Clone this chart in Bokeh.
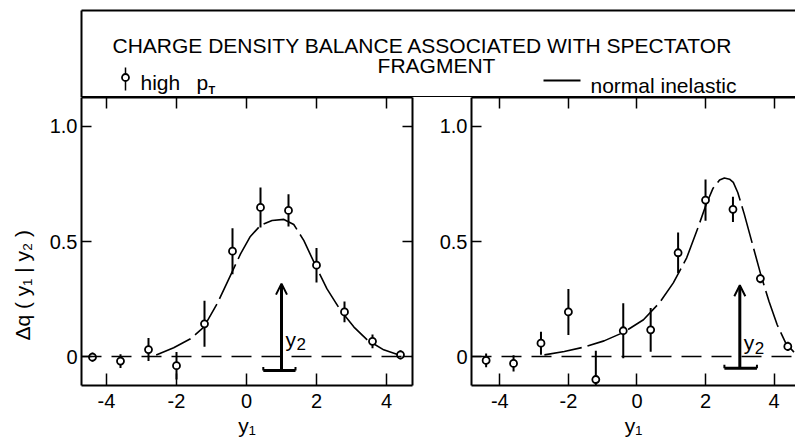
from bokeh.plotting import figure
from bokeh.layouts import column, row
from bokeh.models import (Range1d, FixedTicker, CustomJSTickFormatter, LinearAxis,
                          Span, Arrow, OpenHead, ColumnDataSource)
from bokeh.embed import file_html
from bokeh.resources import INLINE
from bokeh.core.properties import value

FONT = "Liberation Sans"

# ---------------- data ----------------
x_ticks = [-4, -2, 0, 2, 4]
y_ticks = [0, 0.5, 1.0]

# left panel
y1_left = [-4.4, -3.6, -2.8, -2.0, -1.2, -0.4, 0.4, 1.2, 2.0, 2.8, 3.6, 4.4]
dq_left = [-0.003, -0.02, 0.03, -0.04, 0.142, 0.458, 0.648, 0.635, 0.397, 0.194, 0.066, 0.007]
err_left = [0.02, 0.03, 0.05, 0.06, 0.10, 0.10, 0.087, 0.07, 0.075, 0.045, 0.03, 0.02]
curve_left_x = [-2.58, -2.08, -1.6, -1.22, -0.84, -0.46, -0.17, 0.11, 0.4, 0.73, 1.07,
                1.35, 1.64, 1.97, 2.3, 2.69, 3.07, 3.45, 3.92, 4.4]
curve_left_y = [0.007, 0.038, 0.077, 0.128, 0.229, 0.352, 0.446, 0.522, 0.570, 0.591, 0.596,
                0.574, 0.504, 0.396, 0.294, 0.200, 0.128, 0.072, 0.029, 0.004]

# right panel
y1_right = [-4.4, -3.6, -2.8, -2.0, -1.2, -0.4, 0.4, 1.2, 2.0, 2.8, 3.6, 4.4]
dq_right = [-0.017, -0.03, 0.058, 0.194, -0.10, 0.112, 0.116, 0.451, 0.68, 0.64, 0.339, 0.044]
err_right = [0.03, 0.035, 0.05, 0.10, 0.125, 0.12, 0.095, 0.088, 0.09, 0.055, 0.02, 0.02]
curve_right_x = [-2.70, -2.12, -1.54, -0.96, -0.39, 0.19, 0.67, 1.06, 1.45, 1.78, 2.02,
                 2.22, 2.41, 2.55, 2.70, 2.81, 2.94, 3.13, 3.37, 3.61, 3.85, 4.09, 4.34, 4.58]
curve_right_y = [0.007, 0.022, 0.041, 0.068, 0.105, 0.160, 0.236, 0.320, 0.429, 0.560, 0.662,
                 0.732, 0.767, 0.776, 0.771, 0.757, 0.713, 0.619, 0.488, 0.357, 0.240, 0.138,
                 0.058, 0.019]

# spectator-fragment rapidity markers (y2)
arrow_x = [1.0, 3.0]
arrow_base = [-0.061, -0.051]
arrow_tip = [0.317, 0.31]
bar_left = [0.48, 2.55]
bar_right = [1.40, 3.50]
y2_label_y = [0.075, 0.06]

title_lines = ["CHARGE  DENSITY BALANCE ASSOCIATED WITH  SPECTATOR", "FRAGMENT"]
legend_texts = ["high", "p", "T", "normal  inelastic"]
y_axis_title = "\u0394q ( y\u2081 | y\u2082 )"
x_axis_title = "y\u2081"


def style_axis(ax, ticks, formatter_code, label_size, standoff, tick_in):
    ax.ticker = FixedTicker(ticks=ticks)
    ax.formatter = CustomJSTickFormatter(code=formatter_code)
    ax.major_tick_in = tick_in
    ax.major_tick_out = 0
    ax.minor_tick_line_color = None
    ax.major_tick_line_width = 1.5
    ax.major_tick_line_color = "black"
    ax.axis_line_width = 2
    ax.axis_line_color = "black"
    ax.major_label_text_font = FONT
    ax.major_label_text_font_size = label_size
    ax.major_label_text_color = "black"
    ax.major_label_standoff = standoff
    ax.axis_label_text_font = FONT
    ax.axis_label_text_font_style = "normal"
    ax.axis_label_text_color = "black"


def make_panel(width, mb_left, mb_right, x_start, x_end, xs, ys, errs, cx, cy, idx, ylabel, right_axis):
    p = figure(width=width, height=347, x_range=Range1d(x_start, x_end),
               y_range=Range1d(-0.126, 1.126), output_backend="svg", toolbar_location=None,
               title=None, min_border_left=mb_left, min_border_right=mb_right,
               min_border_top=0, min_border_bottom=59, x_axis_type=None, y_axis_type=None)
    p.outline_line_color = None
    p.background_fill_color = "white"
    p.border_fill_color = "white"

    xfmt = "return String(tick);"
    yfmt = "return tick == 0 ? '0' : tick.toFixed(1);"
    hide = "return '';"

    bottom = LinearAxis()
    style_axis(bottom, x_ticks, xfmt, "20px", 8, 12)
    bottom.axis_label = x_axis_title
    bottom.axis_label_text_font_size = "21px"
    bottom.axis_label_standoff = 3
    p.add_layout(bottom, "below")

    left = LinearAxis()
    style_axis(left, y_ticks, yfmt, "20px", 4, 10)
    if ylabel:
        # trailing no-break spaces shift the rotated title toward the bottom, as in the original
        left.axis_label = ylabel + "\u00a0" * 15
        left.axis_label_text_font_size = "21px"
        left.axis_label_standoff = 13
    p.add_layout(left, "left")

    top = LinearAxis()
    style_axis(top, x_ticks, hide, "0px", 0, 11)
    p.add_layout(top, "above")

    if right_axis:
        rt = LinearAxis()
        style_axis(rt, y_ticks, hide, "0px", 0, 10)
        p.add_layout(rt, "right")

    p.add_layout(Span(location=0, dimension="width", line_dash="20 10",
                      line_width=1.5, line_color="black"))

    p.line(cx, cy, line_dash="38 6", line_width=1.6, line_color="black")

    src = ColumnDataSource(dict(x=xs, y=ys,
                                lo=[v - e for v, e in zip(ys, errs)],
                                hi=[v + e for v, e in zip(ys, errs)]))
    p.segment(x0="x", y0="lo", x1="x", y1="hi", source=src, line_width=2, line_color="black")
    p.scatter("x", "y", source=src, marker="circle", size=7, fill_color="white",
              line_color="black", line_width=1.8)

    ax_ = arrow_x[idx]
    base = arrow_base[idx]
    p.add_layout(Arrow(end=OpenHead(size=11, line_width=2, line_color="black"),
                       x_start=ax_, y_start=base, x_end=ax_, y_end=arrow_tip[idx],
                       line_width=3, line_color="black"))
    p.segment(x0=[bar_left[idx]], y0=[base], x1=[bar_right[idx]], y1=[base],
              line_width=3, line_color="black")
    p.segment(x0=[bar_left[idx], bar_right[idx]], y0=[base, base],
              x1=[bar_left[idx], bar_right[idx]], y1=[base + 0.015, base + 0.015],
              line_width=2, line_color="black")
    p.text(x=[ax_], y=[y2_label_y[idx]], text=["y"], x_offset=4,
           text_font=value(FONT), text_font_size="21px", text_align="left",
           text_baseline="alphabetic", text_color="black")
    p.text(x=[ax_], y=[y2_label_y[idx]], text=["2"], x_offset=15, y_offset=5,
           text_font=value(FONT), text_font_size="17px", text_align="left",
           text_baseline="alphabetic", text_color="black")
    return p


# ---------------- header ----------------
hdr = figure(width=795, height=97, x_range=Range1d(0, 795), y_range=Range1d(97, 0),
             output_backend="svg", toolbar_location=None, title=None, min_border=0,
             x_axis_type=None, y_axis_type=None)
hdr.outline_line_color = None
hdr.grid.visible = False
hdr.segment(x0=[81, 81, 81], y0=[10, 10, 96.5], x1=[795, 81, 795], y1=[10, 97, 96.5],
            line_width=2, line_color="black")
hdr.text(x=[428], y=[45], text=[title_lines[0]], text_font=value(FONT), text_font_size="21px",
         text_align="center", text_baseline="alphabetic", text_color="black")
hdr.text(x=[436], y=[65], text=[title_lines[1]], text_font=value(FONT), text_font_size="21px",
         text_align="center", text_baseline="alphabetic", text_color="black")
# legend: data point symbol
hdr.segment(x0=[125], y0=[67], x1=[125], y1=[90], line_width=1.5, line_color="black")
hdr.scatter(x=[125], y=[77], marker="circle", size=7, fill_color="white", line_color="black",
            line_width=1.8)
hdr.text(x=[140], y=[82], text=[legend_texts[0]], text_font=value(FONT), text_font_size="21px",
         text_align="left", text_baseline="alphabetic", text_color="black")
hdr.text(x=[196], y=[82], text=[legend_texts[1]], text_font=value(FONT), text_font_size="21px",
         text_align="left", text_baseline="alphabetic", text_color="black")
hdr.text(x=[208], y=[89], text=[legend_texts[2]], text_font=value(FONT), text_font_size="11px",
         text_font_style="bold", text_align="left", text_baseline="alphabetic", text_color="black")
# legend: curve
hdr.segment(x0=[543], y0=[80], x1=[580], y1=[80], line_width=2, line_color="black")
hdr.text(x=[590], y=[85], text=[legend_texts[3]], text_font=value(FONT), text_font_size="21px",
         text_align="left", text_baseline="alphabetic", text_color="black")

# ---------------- panels ----------------
p1 = make_panel(436, 81, 24, (81 - 246) / 35.0, (412 - 246) / 35.0,
                y1_left, dq_left, err_left, curve_left_x, curve_left_y, 0,
                y_axis_title, True)
p2 = make_panel(359, 32, 0, (468 - 635) / 34.6, (795 - 635) / 34.6,
                y1_right, dq_right, err_right, curve_right_x, curve_right_y, 1,
                None, False)

layout = column(hdr, row(p1, p2, spacing=0), spacing=0)
open("out.html", "w").write(file_html(layout, INLINE))
